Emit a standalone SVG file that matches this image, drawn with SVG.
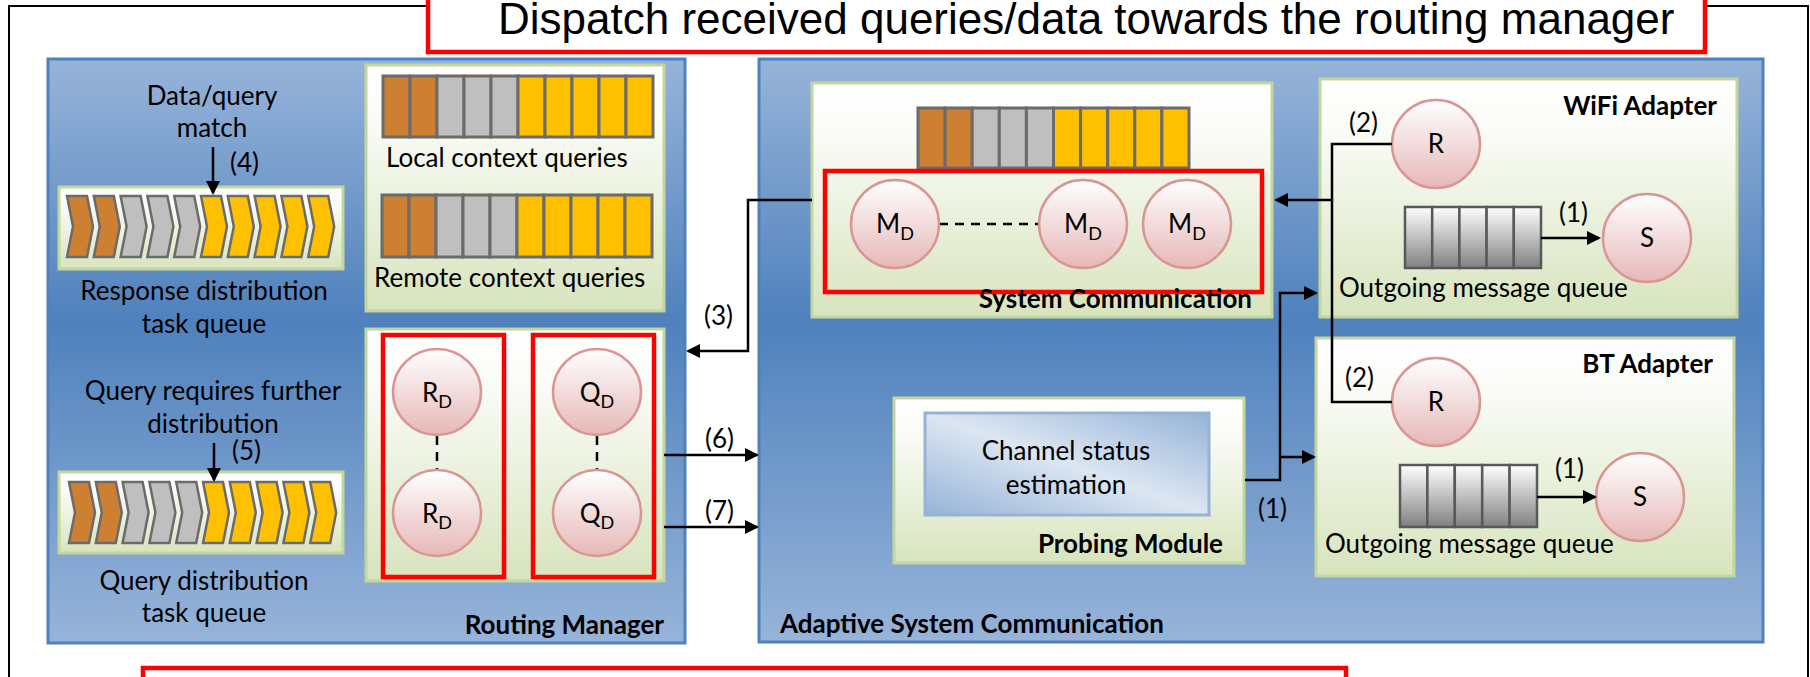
<svg xmlns="http://www.w3.org/2000/svg" xmlns:xlink="http://www.w3.org/1999/xlink" width="1810" height="677" viewBox="0 0 1810 677">
  <defs>
    <linearGradient id="panelFill" x1="0" y1="0" x2="0" y2="1">
      <stop offset="0" stop-color="#97B4D9"/>
      <stop offset="0.45" stop-color="#4F81BD"/>
      <stop offset="1" stop-color="#97B4D9"/>
    </linearGradient>
    <linearGradient id="boxFill" x1="0" y1="0" x2="0" y2="1">
      <stop offset="0" stop-color="#FFFFFF"/>
      <stop offset="0.2" stop-color="#FBFCF8"/>
      <stop offset="1" stop-color="#D7E4BD"/>
    </linearGradient>
    <linearGradient id="nodeFill" x1="0" y1="0" x2="0" y2="1">
      <stop offset="0" stop-color="#FFFFFF"/>
      <stop offset="1" stop-color="#E5B8B7"/>
    </linearGradient>
    <linearGradient id="cellFill" x1="0" y1="0" x2="0" y2="1">
      <stop offset="0" stop-color="#FFFFFF"/>
      <stop offset="1" stop-color="#808080"/>
    </linearGradient>
    <linearGradient id="estFill" x1="1" y1="0" x2="0" y2="1">
      <stop offset="0" stop-color="#95B3D7"/>
      <stop offset="0.5" stop-color="#DCE6F2"/>
      <stop offset="1" stop-color="#95B3D7"/>
    </linearGradient>
    <polygon id="chev" points="0,0 20,0 26,30.5 20,61 0,61 6,30.5"/>
    <marker id="arrow" markerUnits="userSpaceOnUse" markerWidth="16" markerHeight="16" refX="12" refY="7" orient="auto">
      <path d="M0,0 L14,7 L0,14 z" fill="#000"/>
    </marker>
  </defs>
  <style>
    text { font-family: Lato, "Open Sans", "Liberation Sans", sans-serif; font-size: 26px; fill: #000; }
    .title { font-family: "Liberation Sans", Arial, sans-serif; font-size: 44px; }
    .bold { font-weight: bold; }
    .mid { text-anchor: middle; }
    .end { text-anchor: end; }
    .sub { font-size: 18px; }
    .panel { fill: url(#panelFill); stroke: #4F81BD; stroke-width: 3; }
    .box { fill: url(#boxFill); stroke: #C3D69B; stroke-width: 3; }
    .red { fill: none; stroke: #FF0000; stroke-width: 4.5; }
    .node { fill: url(#nodeFill); stroke: #D99694; stroke-width: 2.5; }
    .cell { stroke: #6B6B6B; stroke-width: 3; }
    .ocell { fill: url(#cellFill); stroke: #595959; stroke-width: 2.5; }
    .org { fill: #CD7F32; }
    .gry { fill: #BFBFBF; }
    .ylw { fill: #FFC000; }
    .chev { stroke: #6B6B6B; stroke-width: 2.5; stroke-linejoin: miter; }
    .wire { fill: none; stroke: #000; stroke-width: 2.5; }
    .dash { fill: none; stroke: #000; stroke-width: 2.5; stroke-dasharray: 9 7; }
  </style>

  <rect width="1810" height="677" fill="#FFFFFF"/>

  <!-- outer frame, open at the bottom -->
  <path d="M9,677 V6 H428 M1705,6 H1808 V677" fill="none" stroke="#000" stroke-width="2"/>

  <!-- heading -->
  <g id="heading">
    <rect x="428" y="-10" width="1277" height="62" fill="#FFFFFF" stroke="#FF0000" stroke-width="4.5"/>
    <text class="title" x="498" y="34">Dispatch received queries/data towards the routing manager</text>
  </g>

  <!-- lower banner -->
  <g id="banner">
    <rect x="143" y="668" width="1203" height="30" fill="#FFFFFF" stroke="#FF0000" stroke-width="4.5"/>
  </g>

  <!-- Routing Manager -->
  <g id="routing-manager">
    <rect class="panel" x="48" y="59" width="637" height="584"/>
    <text class="bold end" x="664" y="634">Routing Manager</text>
  </g>

  <g id="response-queue">
    <text class="mid" x="212" y="105">Data/query</text>
    <text class="mid" x="212" y="137">match</text>
    <rect class="box" x="59" y="187" width="284" height="82"/>
    <use href="#chev" class="chev org" x="67" y="196"/>
    <use href="#chev" class="chev org" x="93.8" y="196"/>
    <use href="#chev" class="chev gry" x="120.6" y="196"/>
    <use href="#chev" class="chev gry" x="147.4" y="196"/>
    <use href="#chev" class="chev gry" x="174.2" y="196"/>
    <use href="#chev" class="chev ylw" x="201" y="196"/>
    <use href="#chev" class="chev ylw" x="227.8" y="196"/>
    <use href="#chev" class="chev ylw" x="254.6" y="196"/>
    <use href="#chev" class="chev ylw" x="281.4" y="196"/>
    <use href="#chev" class="chev ylw" x="308.2" y="196"/>
    <text class="mid" x="204" y="300">Response distribution</text>
    <text class="mid" x="204" y="333">task queue</text>
  </g>

  <g id="query-queue">
    <text class="mid" x="213" y="400">Query requires further</text>
    <text class="mid" x="213" y="433">distribution</text>
    <rect class="box" x="59" y="472" width="284" height="81"/>
    <use href="#chev" class="chev org" x="69" y="482"/>
    <use href="#chev" class="chev org" x="95.8" y="482"/>
    <use href="#chev" class="chev gry" x="122.6" y="482"/>
    <use href="#chev" class="chev gry" x="149.4" y="482"/>
    <use href="#chev" class="chev gry" x="176.2" y="482"/>
    <use href="#chev" class="chev ylw" x="203" y="482"/>
    <use href="#chev" class="chev ylw" x="229.8" y="482"/>
    <use href="#chev" class="chev ylw" x="256.6" y="482"/>
    <use href="#chev" class="chev ylw" x="283.4" y="482"/>
    <use href="#chev" class="chev ylw" x="310.2" y="482"/>
    <text class="mid" x="204" y="590">Query distribution</text>
    <text class="mid" x="204" y="622">task queue</text>
  </g>

  <g id="context-queries">
    <rect class="box" x="366" y="65" width="298" height="246"/>
    <rect class="cell org" x="383" y="76" width="27" height="61"/>
    <rect class="cell org" x="410" y="76" width="27" height="61"/>
    <rect class="cell gry" x="437" y="76" width="27" height="61"/>
    <rect class="cell gry" x="464" y="76" width="27" height="61"/>
    <rect class="cell gry" x="491" y="76" width="27" height="61"/>
    <rect class="cell ylw" x="518" y="76" width="27" height="61"/>
    <rect class="cell ylw" x="545" y="76" width="27" height="61"/>
    <rect class="cell ylw" x="572" y="76" width="27" height="61"/>
    <rect class="cell ylw" x="599" y="76" width="27" height="61"/>
    <rect class="cell ylw" x="626" y="76" width="27" height="61"/>
    <text x="386" y="167">Local context queries</text>
    <rect class="cell org" x="382" y="195" width="27" height="62"/>
    <rect class="cell org" x="409" y="195" width="27" height="62"/>
    <rect class="cell gry" x="436" y="195" width="27" height="62"/>
    <rect class="cell gry" x="463" y="195" width="27" height="62"/>
    <rect class="cell gry" x="490" y="195" width="27" height="62"/>
    <rect class="cell ylw" x="517" y="195" width="27" height="62"/>
    <rect class="cell ylw" x="544" y="195" width="27" height="62"/>
    <rect class="cell ylw" x="571" y="195" width="27" height="62"/>
    <rect class="cell ylw" x="598" y="195" width="27" height="62"/>
    <rect class="cell ylw" x="625" y="195" width="27" height="62"/>
    <text x="374" y="287">Remote context queries</text>
  </g>

  <g id="dispatchers">
    <rect class="box" x="366" y="329" width="298" height="252"/>
    <rect class="red" x="383" y="335" width="121" height="242"/>
    <rect class="red" x="533" y="335" width="121" height="242"/>
    <line class="dash" x1="437" y1="436" x2="437" y2="470" stroke-dasharray="8 8"/>
    <line class="dash" x1="597" y1="436" x2="597" y2="470" stroke-dasharray="8 8"/>
    <ellipse class="node" cx="437" cy="392" rx="44" ry="43"/>
    <ellipse class="node" cx="437" cy="513" rx="44" ry="43"/>
    <ellipse class="node" cx="597" cy="392" rx="44" ry="43"/>
    <ellipse class="node" cx="597" cy="513" rx="44" ry="43"/>
    <text class="mid" x="437" y="402">R<tspan class="sub" dy="6">D</tspan></text>
    <text class="mid" x="437" y="523">R<tspan class="sub" dy="6">D</tspan></text>
    <text class="mid" x="597" y="402">Q<tspan class="sub" dy="6">D</tspan></text>
    <text class="mid" x="597" y="523">Q<tspan class="sub" dy="6">D</tspan></text>
  </g>

  <!-- Adaptive System Communication -->
  <g id="adaptive-system-communication">
    <rect class="panel" x="759" y="59" width="1004" height="583"/>
    <text class="bold" x="780" y="633">Adaptive System Communication</text>
  </g>

  <g id="system-communication">
    <rect class="box" x="812" y="83" width="460" height="234"/>
    <rect class="cell org" x="918" y="108" width="27.1" height="60"/>
    <rect class="cell org" x="945.1" y="108" width="27.1" height="60"/>
    <rect class="cell gry" x="972.2" y="108" width="27.1" height="60"/>
    <rect class="cell gry" x="999.3" y="108" width="27.1" height="60"/>
    <rect class="cell gry" x="1026.4" y="108" width="27.1" height="60"/>
    <rect class="cell ylw" x="1053.5" y="108" width="27.1" height="60"/>
    <rect class="cell ylw" x="1080.6" y="108" width="27.1" height="60"/>
    <rect class="cell ylw" x="1107.7" y="108" width="27.1" height="60"/>
    <rect class="cell ylw" x="1134.8" y="108" width="27.1" height="60"/>
    <rect class="cell ylw" x="1161.9" y="108" width="27.1" height="60"/>
    <rect class="red" x="825" y="171" width="437" height="121"/>
    <line class="dash" x1="939" y1="224" x2="1039" y2="224"/>
    <ellipse class="node" cx="895" cy="224" rx="44" ry="44"/>
    <ellipse class="node" cx="1083" cy="224" rx="44" ry="44"/>
    <ellipse class="node" cx="1187" cy="224" rx="44" ry="44"/>
    <text class="mid" x="895" y="233">M<tspan class="sub" dy="7">D</tspan></text>
    <text class="mid" x="1083" y="233">M<tspan class="sub" dy="7">D</tspan></text>
    <text class="mid" x="1187" y="233">M<tspan class="sub" dy="7">D</tspan></text>
    <text class="bold end" x="1252" y="308">System Communication</text>
  </g>

  <g id="probing-module">
    <rect class="box" x="894" y="398" width="350" height="165"/>
    <rect x="925" y="413" width="284" height="102" fill="url(#estFill)" stroke="#95B3D7" stroke-width="3"/>
    <text class="mid" x="1066" y="460">Channel status</text>
    <text class="mid" x="1066" y="494">estimation</text>
    <text class="bold end" x="1223" y="553">Probing Module</text>
  </g>

  <g id="wifi-adapter">
    <rect class="box" x="1320" y="79" width="417" height="238"/>
    <text class="bold end" x="1717" y="115">WiFi Adapter</text>
    <ellipse class="node" cx="1436" cy="144" rx="44" ry="44"/>
    <text class="mid" x="1436" y="153">R</text>
    <rect class="ocell" x="1405" y="207" width="27.2" height="61"/>
    <rect class="ocell" x="1432.2" y="207" width="27.2" height="61"/>
    <rect class="ocell" x="1459.4" y="207" width="27.2" height="61"/>
    <rect class="ocell" x="1486.6" y="207" width="27.2" height="61"/>
    <rect class="ocell" x="1513.8" y="207" width="27.2" height="61"/>
    <ellipse class="node" cx="1647" cy="238" rx="44" ry="44"/>
    <text class="mid" x="1647" y="247">S</text>
    <text x="1339" y="297">Outgoing message queue</text>
  </g>

  <g id="bt-adapter">
    <rect class="box" x="1316" y="338" width="418" height="238"/>
    <text class="bold end" x="1713" y="373">BT Adapter</text>
    <ellipse class="node" cx="1436" cy="402" rx="44" ry="44"/>
    <text class="mid" x="1436" y="411">R</text>
    <rect class="ocell" x="1400" y="465" width="27.4" height="62"/>
    <rect class="ocell" x="1427.4" y="465" width="27.4" height="62"/>
    <rect class="ocell" x="1454.8" y="465" width="27.4" height="62"/>
    <rect class="ocell" x="1482.2" y="465" width="27.4" height="62"/>
    <rect class="ocell" x="1509.6" y="465" width="27.4" height="62"/>
    <ellipse class="node" cx="1640" cy="497" rx="44" ry="44"/>
    <text class="mid" x="1640" y="506">S</text>
    <text x="1325" y="553">Outgoing message queue</text>
  </g>

  <!-- connectors -->
  <g id="connectors">
    <line class="wire" x1="213" y1="147" x2="213" y2="193" marker-end="url(#arrow)"/>
    <text x="230" y="172">(4)</text>
    <line class="wire" x1="214" y1="443" x2="214" y2="480" marker-end="url(#arrow)"/>
    <text x="232" y="460">(5)</text>

    <polyline class="wire" points="812,200 748,200 748,351 688,351" marker-end="url(#arrow)"/>
    <text x="704" y="325">(3)</text>

    <line class="wire" x1="664" y1="455" x2="757" y2="455" marker-end="url(#arrow)"/>
    <text x="705" y="448">(6)</text>
    <line class="wire" x1="664" y1="527" x2="757" y2="527" marker-end="url(#arrow)"/>
    <text x="705" y="520">(7)</text>

    <polyline class="wire" points="1392,144 1332,144 1332,402 1392,402"/>
    <line class="wire" x1="1332" y1="200" x2="1276" y2="200" marker-end="url(#arrow)"/>
    <text x="1349" y="132">(2)</text>
    <text x="1345" y="387">(2)</text>

    <polyline class="wire" points="1245,480 1280,480 1280,293 1316,293" stroke-width="3" marker-end="url(#arrow)"/>
    <line class="wire" x1="1280" y1="457" x2="1314" y2="457" stroke-width="3" marker-end="url(#arrow)"/>
    <text x="1258" y="518">(1)</text>

    <line class="wire" x1="1541" y1="238" x2="1599" y2="238" marker-end="url(#arrow)"/>
    <text x="1559" y="222">(1)</text>
    <line class="wire" x1="1537" y1="497" x2="1595" y2="497" marker-end="url(#arrow)"/>
    <text x="1555" y="478">(1)</text>
  </g>
</svg>
